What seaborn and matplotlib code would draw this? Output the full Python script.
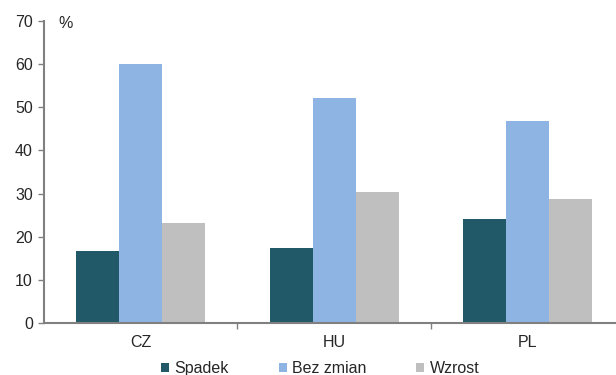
import pandas as pd
import seaborn as sns
from matplotlib import pyplot as plt

# values
countries = ['CZ', 'HU', 'PL']
answers = ['Spadek', 'Bez zmian', 'Wzrost']
spadek = [16.6, 17.3, 24.1]
bez_zmian = [60.0, 52.1, 46.8]
wzrost = [23.2, 30.4, 28.7]
colors = ['#215968', '#8DB4E2', '#BFBFBF']

data = pd.DataFrame({
    'kraj': countries * 3,
    'odp': [a for a in answers for _ in countries],
    'val': spadek + bez_zmian + wzrost,
})

sns.set_style('white')
plt.rcParams['font.family'] = ['Liberation Sans', 'DejaVu Sans']
fs = 11.5

fig = plt.figure(figsize=(6.16, 3.75), dpi=100)
ax = fig.add_axes([0.0714, 0.1387, 0.942, 0.805])

sns.barplot(data=data, x='kraj', y='val', hue='odp', hue_order=answers,
            palette=colors, width=0.667, gap=0, saturation=1, ax=ax,
            edgecolor='none', linewidth=0)

ax.set_xlim(-0.5, 2.5)
ax.set_ylim(0, 70)
ax.set_yticks(range(0, 71, 10))
ax.set_xlabel('')
ax.set_ylabel('')

for s in ['top', 'right']:
    ax.spines[s].set_visible(False)
for s in ['left', 'bottom']:
    ax.spines[s].set_color('#808080')
    ax.spines[s].set_linewidth(1.5)

ax.tick_params(axis='y', direction='out', length=4, width=1, color='#808080',
               labelsize=fs, pad=4, left=True)
ax.tick_params(axis='x', which='major', length=0, labelsize=fs, pad=9)
ax.set_xticks([0.5, 1.5], minor=True)
ax.tick_params(axis='x', which='minor', direction='out', length=4, width=1,
               color='#808080', bottom=True)

ax.text(0.024, 1.017, '%', transform=ax.transAxes, fontsize=fs, va='top')

ax.legend(loc='center', bbox_to_anchor=(0.476, -0.152), ncol=3,
          frameon=False, fontsize=fs, handlelength=0.5, handleheight=0.5,
          handletextpad=0.35, columnspacing=3.1, borderaxespad=0)

fig.savefig('out.png', dpi=100)
